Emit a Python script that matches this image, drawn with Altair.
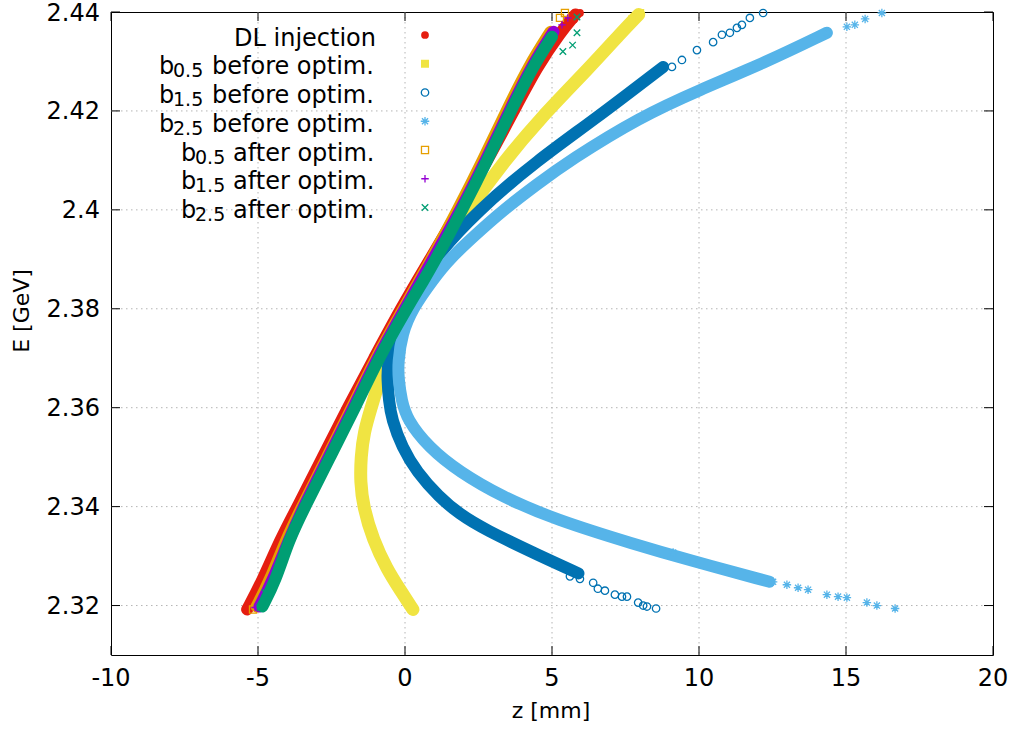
import altair as alt
import pandas as pd

# ---------------------------------------------------------------
# Longitudinal phase space (z [mm], E [GeV]) of the bunch at the
# DL injection point and after the three bunch-compressor settings.
# Dense core of each distribution, sampled along the band.
# ---------------------------------------------------------------
dl_E = [2.3192, 2.325, 2.3333, 2.34, 2.35, 2.36, 2.37, 2.38, 2.39, 2.40, 2.41, 2.42, 2.429, 2.436, 2.4395]
dl_z = [-5.37, -4.85, -4.25, -3.65, -2.8, -1.95, -1.05, -0.15, 0.85, 1.85, 2.8, 3.7, 4.5, 5.3, 5.8]

b05_bef_E = [2.3192, 2.3232, 2.3273, 2.3333, 2.34, 2.345, 2.35, 2.355, 2.36, 2.365, 2.37, 2.375, 2.38, 2.39,
             2.40, 2.41, 2.4182, 2.4289, 2.4358, 2.4395]
b05_bef_z = [0.27, -0.17, -0.61, -1.09, -1.42, -1.52, -1.5, -1.4, -1.15, -0.9, -0.6, -0.2, 0.15, 1.05,
             2.15, 3.4, 4.55, 6.3, 7.35, 7.95]

b15_bef_E = [2.3265, 2.33, 2.3354, 2.3385, 2.342, 2.347, 2.352, 2.3576, 2.3615, 2.3657, 2.3691, 2.375, 2.38,
             2.385, 2.39, 2.40, 2.41, 2.4182, 2.4289]
b15_bef_z = [5.9, 4.6, 2.7, 1.85, 1.15, 0.4, -0.1, -0.45, -0.55, -0.6, -0.6, -0.3, 0.15,
             0.55, 0.95, 2.5, 4.5, 6.43, 8.78]

b25_bef_E = [2.3248, 2.3293, 2.3323, 2.3374, 2.342, 2.347, 2.352, 2.3576, 2.3615, 2.3657, 2.3691, 2.375, 2.38,
             2.3859, 2.39, 2.395, 2.40, 2.405, 2.41, 2.4188, 2.4242, 2.4299, 2.4358]
b25_bef_z = [12.4, 9.6, 7.85, 5.1, 3.3, 1.85, 0.8, 0.07, -0.12, -0.22, -0.24, -0.1, 0.25,
             0.95, 1.5, 2.4, 3.35, 4.45, 5.6, 8.0, 10.0, 12.3, 14.35]

b05_aft_E = [2.3198, 2.325, 2.3333, 2.34, 2.35, 2.36, 2.37, 2.38, 2.39, 2.40, 2.41, 2.42, 2.429, 2.436]
b05_aft_z = [-5.05, -4.6, -4.05, -3.5, -2.65, -1.8, -1.0, -0.05, 0.9, 1.8, 2.65, 3.45, 4.2, 4.95]

b15_aft_E = [2.3198, 2.325, 2.3333, 2.34, 2.35, 2.36, 2.37, 2.38, 2.39, 2.40, 2.41, 2.42, 2.429, 2.436]
b15_aft_z = [-4.95, -4.5, -3.95, -3.45, -2.6, -1.75, -0.95, 0.0, 0.95, 1.9, 2.75, 3.55, 4.3, 5.05]

b25_aft_E = [2.3198, 2.325, 2.3333, 2.34, 2.35, 2.36, 2.37, 2.38, 2.3859, 2.39, 2.40, 2.41, 2.42, 2.429, 2.435]
b25_aft_z = [-4.85, -4.4, -3.95, -3.4, -2.55, -1.7, -0.9, 0.05, 0.65, 1.05, 1.95, 2.8, 3.6, 4.35, 5.0]

# Individual macro-particles in the sparse tails
dl_tail_z = [-5.37, 5.95, 5.75]
dl_tail_E = [2.3192, 2.4398, 2.4385]

b05_bef_tail_z = [0.27, 0.2, 8.0, 7.72]
b05_bef_tail_E = [2.3192, 2.3198, 2.4398, 2.4385]

b15_bef_tail_z = [8.54, 8.23, 8.1, 7.93, 7.55, 7.38, 7.14, 6.8, 6.56, 6.4, 5.95, 5.61,
                  12.18, 11.73, 11.46, 11.29, 11.05, 10.78, 10.48, 9.93, 9.42, 9.08]
b15_bef_tail_E = [2.3194, 2.3198, 2.3200, 2.3206, 2.3218, 2.3218, 2.3222, 2.3230, 2.3234, 2.3246, 2.3254, 2.3259,
                  2.4398, 2.4388, 2.4374, 2.4368, 2.4358, 2.4354, 2.4339, 2.4323, 2.4303, 2.4289]

b25_bef_tail_z = [16.67, 16.05, 15.71, 15.03, 14.73, 14.35, 13.71, 13.37, 12.99, 12.52, 9.8, 9.12,
                  16.22, 15.65, 15.3, 15.03, 14.35]
b25_bef_tail_E = [2.3194, 2.3200, 2.3206, 2.3216, 2.3218, 2.3222, 2.3232, 2.3236, 2.3242, 2.3248, 2.3293, 2.3307,
                  2.4398, 2.4386, 2.4374, 2.4370, 2.4358]

b05_aft_tail_z = [-5.17, 5.44, 5.27, 4.59]
b05_aft_tail_E = [2.3192, 2.4398, 2.4388, 2.4317]

b15_aft_tail_z = [-5.1, -5.0, 5.54, 5.34]
b15_aft_tail_E = [2.3196, 2.3202, 2.4388, 2.4374]

b25_aft_tail_z = [-4.86, -4.69, -4.76, -4.93, 5.85, 5.85, 5.37, 5.7]
b25_aft_tail_E = [2.3198, 2.3212, 2.3226, 2.3196, 2.4390, 2.4358, 2.4320, 2.4333]

X_TICKS = [-10, -5, 0, 5, 10, 15, 20]
Y_TICKS = [2.32, 2.34, 2.36, 2.38, 2.40, 2.42, 2.44]
X_TITLE = "z [mm]"
Y_TITLE = "E [GeV]"

# ---------------------------------------------------------------
W, H = 882, 643
OX, OY = 111, 12
FONT = "DejaVu Sans"
GRID = "#b4b4b4"
ASTERISK = "M-1,0L1,0M0,-1L0,1M-0.72,-0.72L0.72,0.72M-0.72,0.72L0.72,-0.72"
PLUS = "M-1,0L1,0M0,-1L0,1"
CROSS = "M-1,-1L1,1M-1,1L1,-1"

xs = alt.Scale(domain=[-10, 20], nice=False, zero=False)
ys = alt.Scale(domain=[2.31, 2.44], nice=False, zero=False)


def X():
    return alt.X("z:Q", scale=xs, axis=None)


def Y():
    return alt.Y("E:Q", scale=ys, axis=None)


series = [
    dict(color="#e51e10", shape="circle", filled=True, size=60, band=12,
         core=(dl_z, dl_E), tail=(dl_tail_z, dl_tail_E), label=("DL injection", None, None)),
    dict(color="#f0e442", shape="square", filled=True, size=64, band=13,
         core=(b05_bef_z, b05_bef_E), tail=(b05_bef_tail_z, b05_bef_tail_E), label=("b", "0.5", "before optim.")),
    dict(color="#0072b2", shape="circle", filled=False, size=55, band=12,
         core=(b15_bef_z, b15_bef_E), tail=(b15_bef_tail_z, b15_bef_tail_E), label=("b", "1.5", "before optim.")),
    dict(color="#56b4e9", shape=ASTERISK, filled=False, size=72, band=12,
         core=(b25_bef_z, b25_bef_E), tail=(b25_bef_tail_z, b25_bef_tail_E), label=("b", "2.5", "before optim.")),
    dict(color="#e69f00", shape="square", filled=False, size=50, band=12,
         core=(b05_aft_z, b05_aft_E), tail=(b05_aft_tail_z, b05_aft_tail_E), label=("b", "0.5", "after optim.")),
    dict(color="#9400d3", shape=PLUS, filled=False, size=56, band=12,
         core=(b15_aft_z, b15_aft_E), tail=(b15_aft_tail_z, b15_aft_tail_E), label=("b", "1.5", "after optim.")),
    dict(color="#009e73", shape=CROSS, filled=False, size=42, band=12,
         core=(b25_aft_z, b25_aft_E), tail=(b25_aft_tail_z, b25_aft_tail_E), label=("b", "2.5", "after optim.")),
]


def point_mark(s, data):
    if s["filled"]:
        return alt.Chart(data).mark_point(shape=s["shape"], filled=True, color=s["color"],
                                          size=s["size"], opacity=1, strokeWidth=0)
    return alt.Chart(data).mark_point(shape=s["shape"], filled=False, color=s["color"],
                                      size=s["size"], opacity=1, strokeWidth=1.3)


layers = []

# dotted grid at the inner tick positions
xg = pd.DataFrame({"z": X_TICKS[1:-1]})
yg = pd.DataFrame({"E": Y_TICKS[:-1]})
layers.append(alt.Chart(xg).mark_rule(color=GRID, strokeWidth=1, strokeDash=[1.5, 3.5]).encode(
    x=X(), y=alt.value(0), y2=alt.value(H)))
layers.append(alt.Chart(yg).mark_rule(color=GRID, strokeWidth=1, strokeDash=[1.5, 3.5]).encode(
    y=Y(), x=alt.value(0), x2=alt.value(W)))

# phase-space bands and their sparse tails, drawn in plotting order
for s in series:
    cz, cE = s["core"]
    core_df = pd.DataFrame({"z": cz, "E": cE, "i": range(len(cz))})
    layers.append(alt.Chart(core_df).mark_line(
        color=s["color"], strokeWidth=s["band"], strokeCap="round", strokeJoin="round",
        interpolate="basis").encode(x=X(), y=Y(), order=alt.Order("i:Q")))
    tz, tE = s["tail"]
    tail_df = pd.DataFrame({"z": tz, "E": tE})
    layers.append(point_mark(s, tail_df).encode(x=X(), y=Y()))

# inward tick marks on all four sides
TL = 9
xt = pd.DataFrame({"z": X_TICKS})
yt = pd.DataFrame({"E": Y_TICKS})
for y0, y1 in [(H, H - TL), (0, TL)]:
    layers.append(alt.Chart(xt).mark_rule(color="black", strokeWidth=1).encode(
        x=X(), y=alt.value(y0), y2=alt.value(y1)))
for x0, x1 in [(0, TL), (W, W - TL)]:
    layers.append(alt.Chart(yt).mark_rule(color="black", strokeWidth=1).encode(
        y=Y(), x=alt.value(x0), x2=alt.value(x1)))

# tick labels
xl = pd.DataFrame({"z": X_TICKS, "lab": [f"{v:g}" for v in X_TICKS]})
yl = pd.DataFrame({"E": Y_TICKS, "lab": [f"{v:g}" for v in Y_TICKS]})
layers.append(alt.Chart(xl).mark_text(align="center", baseline="top", font=FONT, fontSize=24,
                                      color="black").encode(
    x=X(), y=alt.value(H + 12), text="lab:N"))
layers.append(alt.Chart(yl).mark_text(align="right", baseline="middle", font=FONT, fontSize=24,
                                      color="black", dy=1.5).encode(
    y=Y(), x=alt.value(-11), text="lab:N"))

# axis titles
one = pd.DataFrame({"k": [0]})
layers.append(alt.Chart(one).mark_text(align="center", baseline="middle", font=FONT, fontSize=22,
                                       color="black", text=X_TITLE).encode(
    x=alt.value(551 - OX), y=alt.value(711 - OY)))
layers.append(alt.Chart(one).mark_text(align="center", baseline="middle", font=FONT, fontSize=22,
                                       color="black", angle=270, text=Y_TITLE).encode(
    x=alt.value(22 - OX), y=alt.value(311 - OY)))

# key, top left inside the frame (pixel offsets inside the plot area)
SYM_X, ROW0, DY = 425, 35, 28.75
for k, s in enumerate(series):
    yc = ROW0 + DY * k - OY
    base = yc + 10.5
    layers.append(point_mark(s, one).encode(x=alt.value(SYM_X - OX), y=alt.value(yc)))
    main, sub, tail = s["label"]
    if sub is None:
        layers.append(alt.Chart(one).mark_text(
            align="right", baseline="alphabetic", font=FONT, fontSize=24, color="black",
            text=main).encode(x=alt.value(376 - OX), y=alt.value(base)))
        continue
    before = tail.startswith("before")
    x0 = 159 if before else 181
    x_tail = 212 if before else 233
    parts = [(x0, base, main, 24), (x0 + 14, base + 3, sub, 19), (x_tail, base, tail, 24)]
    for xp, yp, txt, fs in parts:
        layers.append(alt.Chart(one).mark_text(
            align="left", baseline="alphabetic", font=FONT, fontSize=fs, color="black",
            text=txt).encode(x=alt.value(xp - OX), y=alt.value(yp)))

chart = alt.layer(*layers).properties(
    width=W, height=H,
    autosize=alt.AutoSizeParams(type="none"),
    padding={"left": OX, "top": OY, "right": 1016 - OX - W, "bottom": 729 - OY - H},
    background="white",
).configure_view(stroke="black", strokeWidth=1)

chart.save("out.html", embed_options={"renderer": "svg", "actions": False})
